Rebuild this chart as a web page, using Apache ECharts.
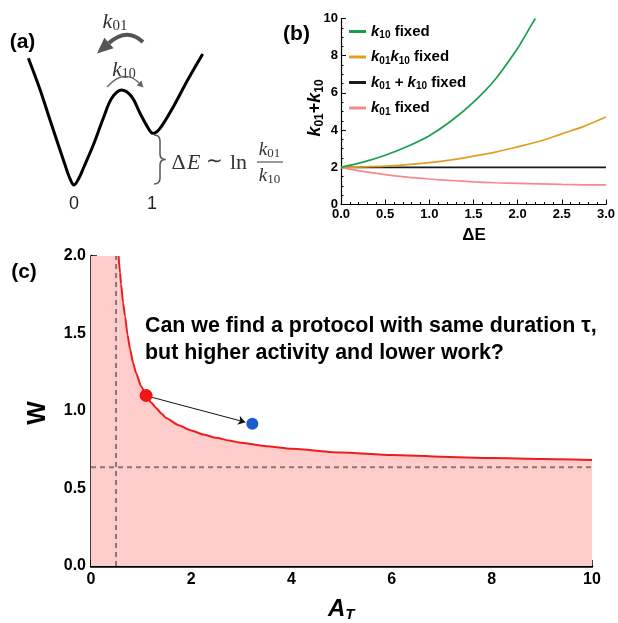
<!DOCTYPE html>
<html><head><meta charset="utf-8">
<script src="https://cdn.jsdelivr.net/npm/echarts@6/dist/echarts.min.js"></script>
<style>html,body{margin:0;padding:0;background:#fff}#c{width:618px;height:623px}</style>
</head><body><div id="c"></div>
<script>
// ---------- Panel (a): schematic double-well potential ----------
const wellX = [-0.58,-0.43,-0.305,-0.178,-0.12,-0.06,0,0.06,0.12,0.245,0.372,0.479,0.606,0.733,0.839,0.944,1.0,1.093,1.262,1.432,1.635];
const wellE = [1.267,0.95,0.65,0.35,0.215,0.08,0,0.065,0.17,0.40,0.667,0.867,0.95,0.883,0.717,0.567,0.517,0.567,0.783,1.033,1.31];
const wellTicks = ['0', '1'];

// ---------- Panel (b): k01 + k10 vs ΔE ----------
const dEGreen   = [0,0.25,0.5,0.75,1.0,1.25,1.5,1.75,2.0,2.1,2.2];
const k10Fixed  = [2,2.28,2.65,3.12,3.7,4.5,5.5,6.75,8.4,9.2,10];
const dE        = [0,0.25,0.5,0.75,1.0,1.25,1.5,1.75,2.0,2.25,2.5,2.75,3.0];
const prodFixed = [2,2.02,2.06,2.14,2.25,2.4,2.6,2.82,3.1,3.4,3.8,4.2,4.7];
const sumFixed  = [2,2,2,2,2,2,2,2,2,2,2,2,2];
const k01Fixed  = [2,1.78,1.61,1.47,1.37,1.29,1.22,1.17,1.14,1.11,1.08,1.06,1.05];
const seriesNamesB = ['k10 fixed','k01k10 fixed','k01 + k10 fixed','k01 fixed'];

// ---------- Panel (c): W vs A_T ----------
const curveA = [0.55,0.58,0.6,0.64,0.68,0.73,0.78,0.84,0.9,1.0,1.1,1.2,1.3,1.4,1.5,1.75,2.0,2.25,2.5,2.75,3.0,3.5,4.0,5.0,6.0,7.0,8.0,9.0,10.0];
const curveW = [2.0,1.89,1.82,1.70,1.61,1.49,1.40,1.31,1.245,1.16,1.10,1.055,1.02,0.985,0.955,0.908,0.875,0.848,0.827,0.81,0.795,0.773,0.756,0.732,0.716,0.705,0.696,0.690,0.684];
const leftFillA = [0, 0.55];
const leftFillW = [2, 2];
const wMin = 0.637;   // horizontal dashed guide
const aMin = 0.5;     // vertical dashed guide
const redPt = [1.1, 1.10];
const bluePt = [3.22, 0.918];
const arrowFrom = [1.22, 1.088];
const arrowTo = [3.08, 0.928];

const SANS = '"Liberation Sans", Arial, Helvetica, sans-serif';
const SERIF = '"Liberation Serif", "Times New Roman", serif';
const pairs = (xs, ys) => xs.map((x, i) => [x, ys[i]]);

const legendMap = {
  'k10 fixed': '{k|k}{s|10}{t| fixed}',
  'k01k10 fixed': '{k|k}{s|01}{k|k}{s|10}{t| fixed}',
  'k01 + k10 fixed': '{k|k}{s|01}{t| + }{k|k}{s|10}{t| fixed}',
  'k01 fixed': '{k|k}{s|01}{t| fixed}'
};

function axisStyle(o) {
  return Object.assign({
    type: 'value',
    splitLine: {show: false},
    axisLine: {show: true, onZero: false, lineStyle: {color: '#000', width: o.lw}},
    axisTick: {show: true, inside: true, length: o.tl, lineStyle: {color: '#000', width: o.tw}},
    minorTick: {show: true, splitNumber: o.minor, length: o.ml, lineStyle: {color: '#000', width: o.tw}},
    axisLabel: {show: true, margin: o.margin, fontSize: o.fs, fontWeight: 'bold', color: '#000',
      fontFamily: SANS, showMinLabel: true, showMaxLabel: true, formatter: o.fmt}
  }, o.base);
}

const chart = echarts.init(document.getElementById('c'), null, {renderer: 'canvas'});

const lineB = (name, xs, ys, color) => ({
  name, type: 'line', xAxisIndex: 1, yAxisIndex: 1, data: pairs(xs, ys),
  smooth: 0.3, symbol: 'none', color, lineStyle: {color, width: 1.7}, silent: true
});

const subRichSans = (size, sub) => ({
  k: {fontSize: size, fontWeight: 'bold', fontStyle: 'italic', fontFamily: SANS, fill: '#000', lineHeight: size + 4, verticalAlign: 'middle'},
  s: {fontSize: sub, fontWeight: 'bold', fontFamily: SANS, fill: '#000', lineHeight: sub - 1, verticalAlign: 'bottom'},
  t: {fontSize: size, fontWeight: 'bold', fontFamily: SANS, fill: '#000', lineHeight: size + 4, verticalAlign: 'middle'}
});
const subRichSerif = (size, sub, col) => ({
  k: {fontSize: size, fontStyle: 'italic', fontFamily: SERIF, fill: col, lineHeight: size + 2, verticalAlign: 'middle'},
  s: {fontSize: sub, fontFamily: SERIF, fill: col, lineHeight: sub - 2, verticalAlign: 'bottom'}
});

const txt = (x, y, text, style, extra) => Object.assign({
  type: 'text', x, y, silent: true,
  style: Object.assign({text, align: 'center', verticalAlign: 'middle', fill: '#000', fontFamily: SANS}, style)
}, extra || {});

const graphic = [
  // panel labels
  txt(22.5, 42, '(a)', {fontSize: 21, fontWeight: 'bold'}),
  txt(296.5, 34, '(b)', {fontSize: 21, fontWeight: 'bold'}),
  txt(24, 272, '(c)', {fontSize: 21, fontWeight: 'bold'}),
  // panel (a) decorations
  txt(115, 22, '{k|k}{s|01}', {rich: subRichSerif(22, 15, '#333')}),
  txt(124, 70, '{k|k}{s|10}', {rich: subRichSerif(21, 14, '#333')}),
  {type: 'bezierCurve', silent: true, shape: {x1: 143, y1: 42, cpx1: 127, cpy1: 27, x2: 109, y2: 43},
    style: {stroke: '#555', lineWidth: 4, fill: null}},
  {type: 'polygon', silent: true, shape: {points: [[97, 53.6], [113.6, 48.2], [104.4, 37.8]]}, style: {fill: '#555'}},
  {type: 'bezierCurve', silent: true, shape: {x1: 107, y1: 87, cpx1: 124, cpy1: 68, x2: 139, y2: 83},
    style: {stroke: '#666', lineWidth: 1.3, fill: null}},
  {type: 'polygon', silent: true, shape: {points: [[143.5, 87.5], [136.6, 85.4], [141.4, 80.6]]}, style: {fill: '#666'}},
  // brace
  {type: 'bezierCurve', silent: true, shape: {x1: 154, y1: 135, cpx1: 160, cpy1: 135, x2: 160, y2: 141}, style: {stroke: '#555', lineWidth: 1.5, fill: null}},
  {type: 'line', silent: true, shape: {x1: 160, y1: 141, x2: 160, y2: 154}, style: {stroke: '#555', lineWidth: 1.5}},
  {type: 'bezierCurve', silent: true, shape: {x1: 160, y1: 154, cpx1: 160, cpy1: 159.5, x2: 165.5, y2: 159.5}, style: {stroke: '#555', lineWidth: 1.5, fill: null}},
  {type: 'bezierCurve', silent: true, shape: {x1: 165.5, y1: 159.5, cpx1: 160, cpy1: 159.5, x2: 160, y2: 165}, style: {stroke: '#555', lineWidth: 1.5, fill: null}},
  {type: 'line', silent: true, shape: {x1: 160, y1: 165, x2: 160, y2: 178}, style: {stroke: '#555', lineWidth: 1.5}},
  {type: 'bezierCurve', silent: true, shape: {x1: 160, y1: 178, cpx1: 160, cpy1: 184, x2: 154, y2: 184}, style: {stroke: '#555', lineWidth: 1.5, fill: null}},
  // formula  ΔE ~ ln k01/k10
  txt(171.5, 163, 'Δ', {fontSize: 22, fontFamily: SERIF, fill: '#333', align: 'left'}),
  txt(187, 163, 'E', {fontSize: 22, fontFamily: SERIF, fontStyle: 'italic', fill: '#333', align: 'left'}),
  txt(214, 162, '∼', {fontSize: 20, fontFamily: SERIF, fill: '#333'}),
  txt(230, 163, 'ln', {fontSize: 22, fontFamily: SERIF, fill: '#333', align: 'left'}),
  txt(269.5, 150, '{k|k}{s|01}', {rich: subRichSerif(19, 13, '#333')}),
  txt(269.5, 176, '{k|k}{s|10}', {rich: subRichSerif(19, 13, '#333')}),
  {type: 'line', silent: true, shape: {x1: 257, y1: 162, x2: 283, y2: 162}, style: {stroke: '#333', lineWidth: 1}},
  txt(74, 204, wellTicks[0], {fontSize: 18, fill: '#222'}),
  txt(152, 204, wellTicks[1], {fontSize: 18, fill: '#222'}),
  // panel (b) axis titles
  txt(315, 108, '{k|k}{s|01}{t|+}{k|k}{s|10}', {rich: subRichSans(18, 12)}, {rotation: Math.PI / 2}),
  txt(474, 235, 'ΔE', {fontSize: 17, fontWeight: 'bold'}),
  // panel (c) axis titles and question
  txt(38, 413, 'W', {fontSize: 25, fontWeight: 'bold'}, {rotation: Math.PI / 2}),
  txt(328, 609, '{a|A}{s|T}', {align: 'left', rich: {
    a: {fontSize: 24, fontWeight: 'bold', fontStyle: 'italic', fontFamily: SANS, fill: '#000', lineHeight: 26, verticalAlign: 'middle'},
    s: {fontSize: 15, fontWeight: 'bold', fontStyle: 'italic', fontFamily: SANS, fill: '#000', lineHeight: 14, verticalAlign: 'bottom'}
  }}),
  txt(145, 313, 'Can we find a protocol with same duration τ,\nbut higher activity and lower work?',
    {fontSize: 21.4, fontWeight: 'bold', align: 'left', verticalAlign: 'top', lineHeight: 27})
];

const option = {
  animation: false,
  backgroundColor: '#fff',
  textStyle: {fontFamily: SANS},
  grid: [
    {left: 26.8, top: 45, width: 181, height: 150},
    {left: 341, top: 18.5, width: 266, height: 186},
    {left: 91, top: 256, width: 501, height: 310}
  ],
  xAxis: [
    {gridIndex: 0, type: 'value', min: -0.6, max: 1.7, show: false},
    axisStyle({base: {gridIndex: 1, min: 0, max: 3, interval: 0.5}, lw: 1.2, tl: 5, tw: 1, minor: 5, ml: 2.5,
      margin: 3, fs: 13, fmt: v => v.toFixed(1)}),
    axisStyle({base: {gridIndex: 2, min: 0, max: 10, interval: 2}, lw: 2.5, tl: 6, tw: 1.5, minor: 4, ml: 3.5,
      margin: 6, fs: 16, fmt: v => String(v)})
  ],
  yAxis: [
    {gridIndex: 0, type: 'value', min: -0.1, max: 1.4, show: false},
    axisStyle({base: {gridIndex: 1, min: 0, max: 10, interval: 2}, lw: 1.2, tl: 5, tw: 1, minor: 4, ml: 2.5,
      margin: 3, fs: 13, fmt: v => String(v)}),
    axisStyle({base: {gridIndex: 2, min: 0, max: 2, interval: 0.5}, lw: 2.5, tl: 6, tw: 1.5, minor: 5, ml: 3.5,
      margin: 5, fs: 16, fmt: v => v.toFixed(1)})
  ],
  legend: {
    show: true, orient: 'vertical', left: 349, top: 24, padding: 0,
    itemWidth: 17, itemHeight: 3, itemGap: 9, icon: 'rect', selectedMode: false,
    data: seriesNamesB,
    formatter: name => legendMap[name],
    textStyle: {rich: {
      k: {fontSize: 15, fontWeight: 'bold', fontStyle: 'italic', fontFamily: SANS, color: '#000', lineHeight: 18, verticalAlign: 'middle'},
      s: {fontSize: 10, fontWeight: 'bold', fontFamily: SANS, color: '#000', lineHeight: 9, verticalAlign: 'bottom'},
      t: {fontSize: 15, fontWeight: 'bold', fontFamily: SANS, color: '#000', lineHeight: 18, verticalAlign: 'middle'}
    }}
  },
  series: [
    // (a)
    {type: 'line', xAxisIndex: 0, yAxisIndex: 0, data: pairs(wellX, wellE), smooth: 0.35, symbol: 'none',
      lineStyle: {color: '#000', width: 3}, silent: true},
    // (b)
    lineB(seriesNamesB[2], dE, sumFixed, '#1a1a1a'),
    lineB(seriesNamesB[3], dE, k01Fixed, '#f58a8c'),
    lineB(seriesNamesB[1], dE, prodFixed, '#e39d24'),
    lineB(seriesNamesB[0], dEGreen, k10Fixed, '#1a9e4d'),
    // (c) fill left of the curve
    {type: 'line', xAxisIndex: 2, yAxisIndex: 2, data: pairs(leftFillA, leftFillW), symbol: 'none',
      lineStyle: {width: 0, opacity: 0}, areaStyle: {color: '#ffcccc', opacity: 1}, silent: true, z: 1},
    // (c) bound curve with fill below
    {type: 'line', xAxisIndex: 2, yAxisIndex: 2, data: pairs(curveA, curveW), smooth: 0.2, smoothMonotone: 'x',
      symbol: 'none', lineStyle: {color: '#ee1c1c', width: 2}, areaStyle: {color: '#ffcccc', opacity: 1}, silent: true, z: 2},
    // dashed guides
    {type: 'line', xAxisIndex: 2, yAxisIndex: 2, data: [[0, wMin], [10, wMin]], symbol: 'none',
      lineStyle: {color: '#8c7479', width: 2, type: [5, 4]}, silent: true, z: 3},
    {type: 'line', xAxisIndex: 2, yAxisIndex: 2, data: [[aMin, 0], [aMin, 2]], symbol: 'none',
      lineStyle: {color: '#8c7479', width: 2, type: [5, 4]}, silent: true, z: 3},
    // points + arrow
    {type: 'scatter', xAxisIndex: 2, yAxisIndex: 2, z: 5, silent: true,
      data: [
        {value: redPt, symbolSize: 13, itemStyle: {color: '#f01414', opacity: 1}},
        {value: bluePt, symbolSize: 12, itemStyle: {color: '#1c5ad0', opacity: 1}}
      ],
      markLine: {silent: true, animation: false, symbol: ['none', 'arrow'], symbolSize: 7,
        lineStyle: {color: '#111', width: 1, type: 'solid'}, label: {show: false},
        data: [[{coord: arrowFrom}, {coord: arrowTo}]]}
    }
  ],
  graphic
};
chart.setOption(option);
</script>
</body></html>
